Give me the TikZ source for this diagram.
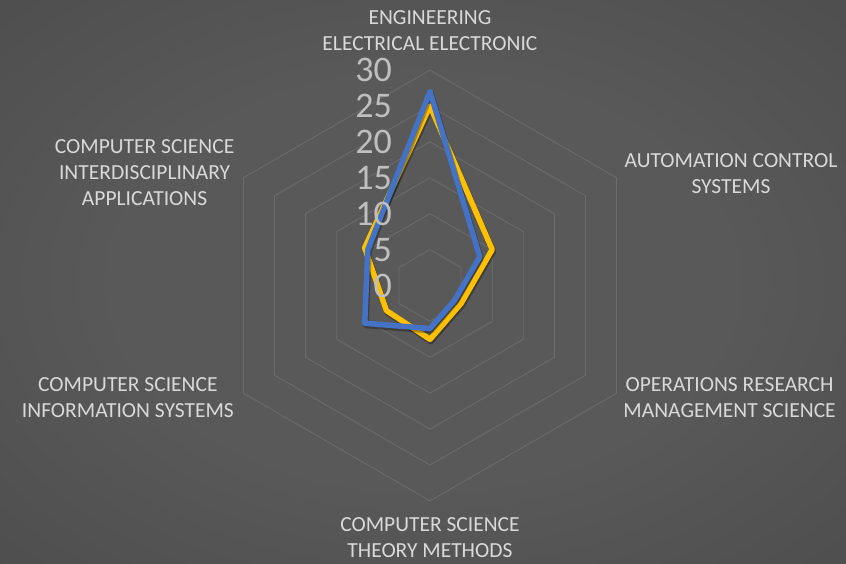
\documentclass[tikz,border=0pt]{standalone}
\usepackage{fontspec}
\setmainfont{Carlito}

\definecolor{sfondoin}{HTML}{595959}
\definecolor{sfondoout}{HTML}{383838}
\definecolor{lineagriglia}{HTML}{6C6C6C}
\definecolor{testo}{HTML}{D9D9D9}
\definecolor{testotacche}{HTML}{BFBFBF}
\definecolor{serieblu}{HTML}{4472C4}
\definecolor{seriegialla}{HTML}{FFC000}

\pgfdeclareradialshading{alone}{\pgfpoint{0bp}{0bp}}{color(0bp)=(sfondoin); color(18bp)=(sfondoin); color(72bp)=(sfondoout)}

\tikzset{
    esagono/.style={draw=lineagriglia, line width=0.8pt},
    etichetta/.style={text=testo, align=center, inner sep=0pt, font=\fontsize{21.5}{26}\selectfont},
    tacca/.style={text=testotacche, anchor=east, inner sep=0pt, font=\fontsize{36}{36}\selectfont},
    serie/.style={line width=5.5pt, line join=round},
    ombra/.style={line width=6pt, line join=round, black, opacity=0.3, shift={(1pt,-2pt)}}
}

\begin{document}
\begin{tikzpicture}[x=1pt, y=1pt]

    % unita' radiale: 5 punti = 35.9px
    \def\u{7.18}

    % Comando \radar con stile e 6 valori (in senso orario dall'alto)
    \def\radar#1#2#3#4#5#6#7{%
        \draw[#1] (90:#2*\u) -- (30:#3*\u) -- (-30:#4*\u) -- (-90:#5*\u)
                  -- (-150:#6*\u) -- (150:#7*\u) -- cycle;%
    }

    % -- Sfondo --
    \shade[shading=alone] (-430,-277.5) rectangle (416,285.5);
    \useasboundingbox (-430,-277.5) rectangle (416,285.5);

    % -- Griglia esagonale --
    \foreach \r in {5,10,...,30}
        \draw[esagono] (90:\r*\u) -- (30:\r*\u) -- (-30:\r*\u) -- (-90:\r*\u)
                       -- (-150:\r*\u) -- (150:\r*\u) -- cycle;

    % -- Serie gialla --
    \radar{ombra}{25}{10}{5}{7.5}{7}{10.5}
    \radar{serie, seriegialla}{25}{10}{5}{7.5}{7}{10.5}

    % -- Serie blu --
    \radar{ombra}{27}{8}{4}{6}{10.5}{10}
    \radar{serie, serieblu}{27}{8}{4}{6}{10.5}{10}

    % Valori dell'asse
    \foreach \v in {0,5,...,30}
        \node[tacca] (tacca\v) at (-38,\v*\u) {\v};

    % -- Categorie --
    \node[etichetta] (ingegneria) at (0,254.5) {ENGINEERING\\ELECTRICAL ELECTRONIC};
    \node[etichetta] (automazione) at (301,112.2) {AUTOMATION CONTROL\\SYSTEMS};
    \node[etichetta] (ricerca) at (299.6,-112.2) {OPERATIONS RESEARCH\\MANAGEMENT SCIENCE};
    \node[etichetta] (teoria) at (0,-252.4) {COMPUTER SCIENCE\\THEORY METHODS};
    \node[etichetta] (informazione) at (-302.1,-112.3) {COMPUTER SCIENCE\\INFORMATION SYSTEMS};
    \node[etichetta] (interdisc) at (-285.4,112.6) {COMPUTER SCIENCE\\INTERDISCIPLINARY\\APPLICATIONS};
\end{tikzpicture}
\end{document}
